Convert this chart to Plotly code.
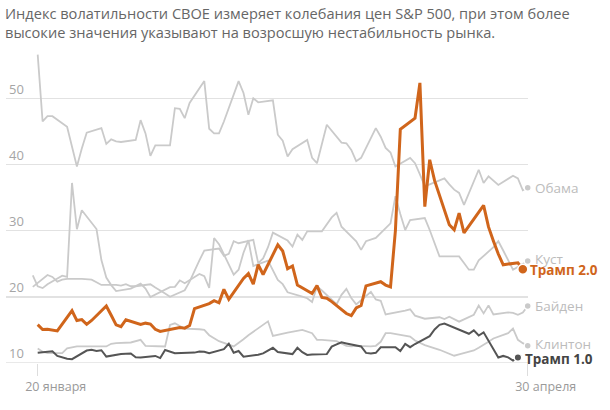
import pandas as pd
import plotly.graph_objects as go

TITLE = ("Индекс волатильности CBOE измеряет колебания цен S&P 500, при этом более<br>"
         "высокие значения указывают на возросшую нестабильность рынка.")

X_TICK_DAYS = [0, 100]
X_TICK_TEXT = ["20 января", "30 апреля"]
Y_TICKS = [10, 20, 30, 40, 50]

# ---- data: VIX closes ----
obama_period = ("2009-01-20", "2009-04-30", [], "2009-01-20")
obama = [56.6, 46.5, 47.3, 47.3,
         45.7, 42.6, 39.7, 42.4, 44.8,
         45.5, 43.1, 43.8, 43.5, 43.4,
         43.7, 46.7, 44.7, 41.3, 42.9,
         42.9, 48.5, 48.4, 47.0, 49.3,
         52.6, 45.4, 44.7, 44.7, 46.5,
         52.6, 50.8, 47.5, 50.0, 49.4,
         49.7, 44.5, 43.6, 41.2, 42.3,
         43.7, 41.0, 40.2, 43.0, 46.0,
         43.3, 43.2, 42.2, 40.5, 41.0,
         45.5, 44.2, 42.5, 41.8, 39.7,
         41.0, 40.2, 38.5, 36.7, 37.0,
         37.9, 37.0, 36.2, 35.7, 33.9,
         39.2, 37.2, 38.2, 37.5, 36.9,
         38.3, 37.9, 36.1, 36.5]

bush_period = ("2001-01-19", "2001-04-30", [], "2001-01-20")
bush = [21.5,
        23.3, 23.0, 22.3, 22.6, 22.7,
        22.7, 22.7, 22.6, 22.2, 21.8,
        21.8, 21.7, 21.9, 21.6, 21.6,
        21.9, 21.4, 21.0, 20.5, 20.0,
        21.0, 22.3, 24.0, 25.5, 27.0,
        27.3, 26.2, 26.5, 28.4, 28.1,
        28.6, 25.1, 25.8, 27.5, 29.7,
        28.5, 27.6, 29.4, 28.6, 29.9,
        29.9, 31.0, 32.0, 32.7, 30.6,
        28.4, 27.1, 28.4, 28.7, 28.9,
        31.1, 35.2, 32.5, 30.1, 31.6,
        31.9, 30.1, 28.0, 26.1, 26.1,
        26.1, 25.1, 24.1, 24.1, 25.5,
        27.5, 28.4, 27.0, 25.5, 24.1,
        25.4]

biden_period = ("2021-01-19", "2021-04-30", ["2021-02-15", "2021-04-02"], "2021-01-20")
biden = [23.24, 21.58, 21.32, 21.91,
         23.19, 23.02, 37.21, 30.21, 33.09,
         30.24, 25.56, 22.91, 21.77, 20.87,
         21.24, 21.63, 21.99, 21.25, 19.97,
         21.46, 21.50, 22.49, 22.05,
         23.45, 23.11, 21.34, 28.89, 27.95,
         23.35, 24.10, 26.67, 28.57, 24.66,
         25.47, 24.03, 22.56, 21.91, 20.69,
         20.03, 19.79, 19.23, 21.58, 20.95,
         18.88, 20.30, 21.20, 19.81, 18.86,
         20.74, 19.61, 19.40, 17.33,
         17.91, 18.12, 17.16, 16.95, 16.69,
         16.91, 16.65, 16.99, 16.57, 16.25,
         17.30, 18.68, 17.50, 18.71, 17.33,
         17.64, 17.56, 17.28, 17.61, 18.61]

clinton_period = ("1993-01-20", "1993-04-30", [], "1993-01-20")
clinton = [12.2, 11.7, 11.5,
           11.5, 12.2, 12.4, 12.5, 12.5,
           12.5, 12.5, 12.5, 12.9, 13.0,
           13.1, 13.3, 13.5, 12.6, 12.6,
           12.5, 15.75, 16.0, 15.6, 15.2,
           15.1, 15.0, 14.2, 13.8, 13.3,
           12.5, 13.0, 13.6, 14.2, 14.7,
           16.3, 14.1, 14.3, 14.5, 14.6,
           15.0, 14.8, 14.5, 13.5, 13.5,
           13.3, 13.0, 12.6, 12.5, 12.6,
           12.5, 12.6, 13.2, 14.5, 14.5,
           14.2, 14.0, 13.4, 13.0, 12.7,
           12.0, 11.7, 11.4, 11.1, 11.3,
           11.9, 12.3, 12.7, 13.2, 13.7,
           14.5, 15.2, 13.5, 13.0, 12.6]

trump1_period = ("2017-01-20", "2017-04-28", ["2017-02-20", "2017-04-14"], "2017-01-20")
trump1 = [11.54,
          11.77, 11.07, 10.81, 10.63, 10.58,
          11.88, 11.99, 11.81, 11.93, 10.97,
          11.37, 11.45, 11.45, 10.88, 10.85,
          11.07, 10.74, 11.97, 11.76, 11.49,
          11.57, 11.74, 11.71, 11.47,
          12.09, 12.92, 11.54, 11.81, 10.96,
          11.24, 11.45, 11.86, 12.30, 11.66,
          11.35, 12.30, 11.63, 11.21, 11.28,
          11.34, 12.47, 12.81, 13.12, 12.96,
          12.50, 11.53, 11.42, 11.54, 12.37,
          12.38, 11.79, 12.89, 12.39, 12.87,
          14.05, 15.07, 15.77, 15.96,
          14.66, 14.42, 14.93, 14.15, 14.63,
          10.84, 11.07, 10.85, 10.36, 10.82]

trump2_period = ("2025-01-20", "2025-04-29", ["2025-02-17", "2025-04-18"], "2025-01-20")
trump2 = [15.8, 15.06, 15.10, 15.02, 14.85,
          17.90, 16.41, 16.56, 15.84, 16.43,
          18.62, 17.21, 15.77, 15.50, 16.54,
          15.81, 16.02, 15.89, 15.10, 14.77,
          15.35, 15.27, 15.66, 18.21,
          18.98, 19.43, 19.10, 21.13, 19.63,
          22.78, 23.51, 21.93, 24.87, 23.37,
          27.86, 26.92, 24.23, 24.66, 21.77,
          20.51, 21.70, 19.90, 19.80, 19.28,
          17.48, 17.15, 18.33, 18.69, 21.65,
          22.28, 21.77, 21.51, 30.02, 45.31,
          46.98, 52.33, 33.62, 40.72, 37.56,
          30.89, 30.12, 32.64, 29.65,
          33.82, 30.57, 28.45, 26.47, 24.84,
          25.15, 24.17]

GRAY = "#cacaca"
ORANGE = "#d0651b"
DARK = "#555555"
FONT = "Open Sans"

series = [
    # name, period, values, line color, width, dot size, label color, bold, label nudge
    ("Обама", obama_period, obama, GRAY, 1.8, 7, "#bcbcbc", False, 0),
    ("Куст", bush_period, bush, GRAY, 1.8, 7, "#bcbcbc", False, 2),
    ("Байден", biden_period, biden, GRAY, 1.8, 7, "#bcbcbc", False, 0),
    ("Клинтон", clinton_period, clinton, GRAY, 1.8, 7, "#bcbcbc", False, 2),
    ("Трамп 1.0", trump1_period, trump1, DARK, 2.0, 7.5, "#444444", True, -1),
    ("Трамп 2.0", trump2_period, trump2, ORANGE, 3.0, 10, ORANGE, True, -1),
]


def day_offsets(period):
    start, end, holidays, inaug = period
    d = pd.bdate_range(start, end)
    d = d[~d.isin(pd.to_datetime(holidays))]
    return list((d - pd.Timestamp(inaug)).days)


fig = go.Figure()
annotations = []
for name, period, vals, color, width, dot, lab_color, bold, nudge in series:
    xs = day_offsets(period)
    n = min(len(xs), len(vals))
    xs, vals = xs[:n], vals[:n]
    fig.add_trace(go.Scatter(
        x=xs, y=vals, mode="lines",
        line=dict(color=color, width=width),
        hoverinfo="skip", showlegend=False, cliponaxis=False))
    fig.add_trace(go.Scatter(
        x=[xs[-1]], y=[vals[-1]], mode="markers",
        marker=dict(color=color, size=dot, line=dict(color="white", width=1.5)),
        hoverinfo="skip", showlegend=False, cliponaxis=False))
    annotations.append(dict(
        x=xs[-1], y=vals[-1], xref="x", yref="y",
        text=f"<b>{name}</b>" if bold else name,
        showarrow=False, xanchor="left", yanchor="middle", xshift=5, yshift=nudge,
        font=dict(family=FONT, size=13.5, color=lab_color)))

annotations.append(dict(
    text=TITLE, xref="paper", yref="paper", x=-0.006, y=1.155,
    xanchor="left", yanchor="top", align="left", showarrow=False,
    font=dict(family=FONT, size=14.6, color="#666666")))

fig.update_layout(
    width=610, height=410,
    margin=dict(l=6, r=82, t=50, b=47, autoexpand=False),
    paper_bgcolor="white", plot_bgcolor="white",
    font=dict(family=FONT, color="#999999"),
    annotations=annotations,
    hovermode=False,
    xaxis=dict(range=[-6.47, 100.06], tickvals=X_TICK_DAYS, ticktext=X_TICK_TEXT,
               showgrid=False, zeroline=False, showline=False, automargin=False,
               ticks="outside", ticklen=12, tickcolor="#dddddd", tickwidth=1,
               ticklabelshift=18, ticklabelstandoff=0,
               tickfont=dict(family=FONT, size=12.5, color="#9a9a9a")),
    yaxis=dict(range=[10, 57.3], tickvals=Y_TICKS, showgrid=True, automargin=False,
               gridcolor="#e2e2e2", gridwidth=1.5, zeroline=False, showline=False,
               ticklabelposition="inside top", ticks="",
               tickfont=dict(family=FONT, size=13, color="#a5a5a5")),
)
fig.add_shape(type="line", xref="paper", yref="y", x0=0, x1=1, y0=10, y1=10,
              line=dict(color="#e2e2e2", width=1.5), layer="below")

fig.write_html("out.html", config={"displayModeBar": False, "staticPlot": True},
               post_script="document.body.style.margin='0px';")
